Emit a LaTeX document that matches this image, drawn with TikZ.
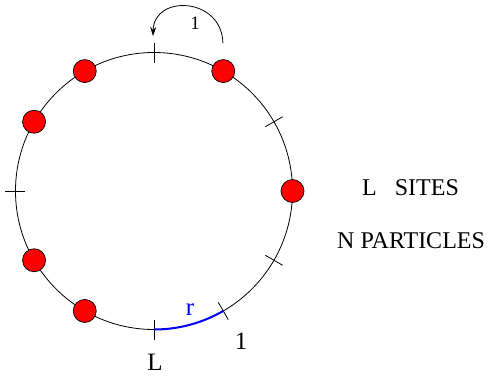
\documentclass[tikz,border=0pt]{standalone}
\usepackage{fontspec}
\setmainfont{Liberation Serif}
\usetikzlibrary{arrows.meta}
\tikzset{
  particle/.style={circle, draw=black, line width=0.7pt, fill=red, minimum size=23pt, inner sep=0pt},
  tick/.style={line width=0.8pt},
  ring/.style={line width=0.8pt},
  arr/.style={-{Stealth[length=9pt,width=6pt]}, line width=0.8pt},
  lbl/.style={font=\fontsize{25}{30}\selectfont, inner sep=0pt},
}
\begin{document}
\begin{tikzpicture}[x=1pt, y=1pt,
  bond/.style={line width=2pt, color=blue},
]
  \useasboundingbox (-154,-185) rectangle (341,191);
  \coordinate (c) at (0,0);
  \draw[ring] (c) circle (138.5);

  \draw[tick] (90:128.5) -- (90:148.5);
  \draw[tick] (30:128.5) -- (30:148.5);
  \draw[tick] (180:128.5) -- (180:148.5);
  \draw[tick] (270:128.5) -- (270:148.5);
  \draw[tick] (300:128.5) -- (300:148.5);
  \draw[tick] (330:128.5) -- (330:148.5);

  \draw[bond] (270:138.5) arc[start angle=270, end angle=300, radius=138.5];

  \node[particle] (p0) at (0:138.5) {};
  \node[particle] (p60) at (60:138.5) {};
  \node[particle] (p120) at (120:138.5) {};
  \node[particle] (p150) at (150:138.5) {};
  \node[particle] (p210) at (210:138.5) {};
  \node[particle] (p240) at (240:138.5) {};

  \coordinate (hopend) at (-1,155);
  \draw[arr, shorten <=16pt] (p60.north) .. controls (68,194) and (0,197) .. (hopend);
  \node[font=\fontsize{19}{22}\selectfont, inner sep=0pt] (hop) at (41,168) {1};

  \node[lbl, text=blue] (r) at (36,-119) {r};
  \node[lbl] (one) at (87,-150) {1};
  \node[lbl] (ell) at (1,-171) {L};

  \node[font=\fontsize{24}{28}\selectfont, inner sep=0pt, anchor=west] (sites) at (208,3) {L~~~SITES};
  \node[font=\fontsize{24}{28}\selectfont, inner sep=0pt, anchor=west] (parts) at (183,-50) {N PARTICLES};
\end{tikzpicture}
\end{document}
